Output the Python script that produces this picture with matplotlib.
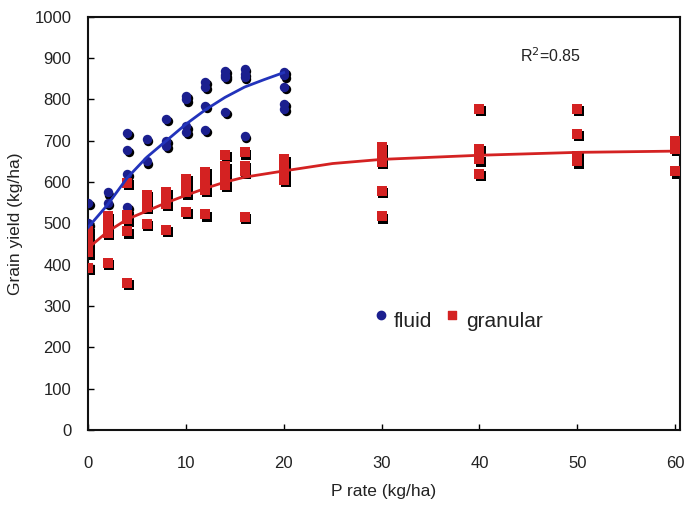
import matplotlib
matplotlib.use("Agg")
import matplotlib.pyplot as plt
import matplotlib.transforms as mtransforms

plt.rcParams['font.family'] = ['Liberation Sans', 'DejaVu Sans']

# fluid (blue) observations
fluid_x = [0, 0, 2, 2, 4, 4, 4, 4, 6, 6, 8, 8, 8, 10, 10, 10, 10,
           12, 12, 12, 12, 14, 14, 14, 14, 16, 16, 16, 16, 20, 20, 20, 20, 20]
fluid_y = [550, 500, 575, 550, 720, 677, 619, 541, 704, 650, 752, 700, 687, 808, 800, 735, 722,
           842, 830, 784, 726, 869, 860, 854, 770, 874, 862, 855, 711, 866, 858, 831, 789, 777]

# granular (red) observations
gran_x = [0, 0, 0, 0, 0, 0, 2, 2, 2, 2, 2, 4, 4, 4, 4, 4, 6, 6, 6, 6,
          8, 8, 8, 8, 10, 10, 10, 10, 12, 12, 12, 12, 14, 14, 14, 14,
          16, 16, 16, 16, 20, 20, 20, 20, 30, 30, 30, 30, 30,
          40, 40, 40, 40, 50, 50, 50, 50, 60, 60, 60, 60]
gran_y = [481, 468, 455, 442, 430, 393, 517, 505, 493, 478, 405, 599, 520, 510, 481, 357,
          570, 558, 541, 498, 575, 560, 548, 485, 607, 590, 575, 527, 624, 600, 582, 522,
          665, 638, 614, 594, 672, 640, 626, 515, 655, 640, 624, 605,
          684, 660, 648, 578, 517, 777, 680, 655, 619, 777, 716, 663, 650, 699, 688, 680, 626]

# fitted curves
fit_fluid_x = [0, 2, 4, 6, 8, 10, 12, 14, 16, 18, 20]
fit_fluid_y = [490, 545, 610, 660, 700, 740, 775, 805, 830, 848, 865]
fit_gran_x = [0, 2, 4, 6, 8, 10, 12, 14, 16, 20, 25, 30, 40, 50, 60]
fit_gran_y = [440, 480, 510, 530, 550, 568, 585, 600, 612, 627, 645, 655, 665, 672, 675]

blue = '#1b1f8f'
red = '#d42222'
txt = '#222222'

fig = plt.figure(figsize=(6.87, 5.09), dpi=100)
ax = fig.add_axes([0.128, 0.155, 0.862, 0.812])

shadow = ax.transData + mtransforms.ScaledTranslation(1.8 / 100, -2.2 / 100, fig.dpi_scale_trans)

ms = 46
ax.scatter(fluid_x, fluid_y, s=ms, marker='o', color='black', transform=shadow, zorder=2, linewidths=0)
ax.scatter(gran_x, gran_y, s=ms, marker='s', color='black', transform=shadow, zorder=2, linewidths=0)
ax.scatter(fluid_x, fluid_y, s=ms, marker='o', color=blue, zorder=3, linewidths=0)
ax.scatter(gran_x, gran_y, s=ms, marker='s', color=red, zorder=3, linewidths=0)

ax.plot(fit_fluid_x, fit_fluid_y, color='#2233bb', lw=2, zorder=4)
ax.plot(fit_gran_x, fit_gran_y, color=red, lw=2, zorder=4)

ax.set_xlim(0, 60.5)
ax.set_ylim(0, 1000)
ax.set_xticks(range(0, 61, 10))
ax.set_yticks(range(0, 1001, 100))
ax.tick_params(direction='in', length=4, width=1, labelsize=12, labelcolor=txt, top=False, right=False)
ax.tick_params(axis='x', pad=19)
ax.tick_params(axis='y', pad=12)
for s in ax.spines.values():
    s.set_linewidth(1.5)
    s.set_color('#111111')

ax.set_xlabel('P rate (kg/ha)', fontsize=12.5, color=txt, labelpad=9)
ax.set_ylabel('Grain yield (kg/ha)', fontsize=12.5, color=txt, labelpad=8)

ax.text(0.73, 0.905, 'R$^2$=0.85', transform=ax.transAxes, fontsize=11.5, color=txt, va='center')

# legend
ax.scatter([29.9], [279], s=36, marker='o', color=blue, zorder=5)
ax.text(31.2, 262, 'fluid', fontsize=15, color=txt, va='center')
ax.scatter([37.2], [279], s=36, marker='s', color=red, zorder=5)
ax.text(38.6, 262, 'granular', fontsize=15, color=txt, va='center')

fig.savefig('out.png', dpi=100)
